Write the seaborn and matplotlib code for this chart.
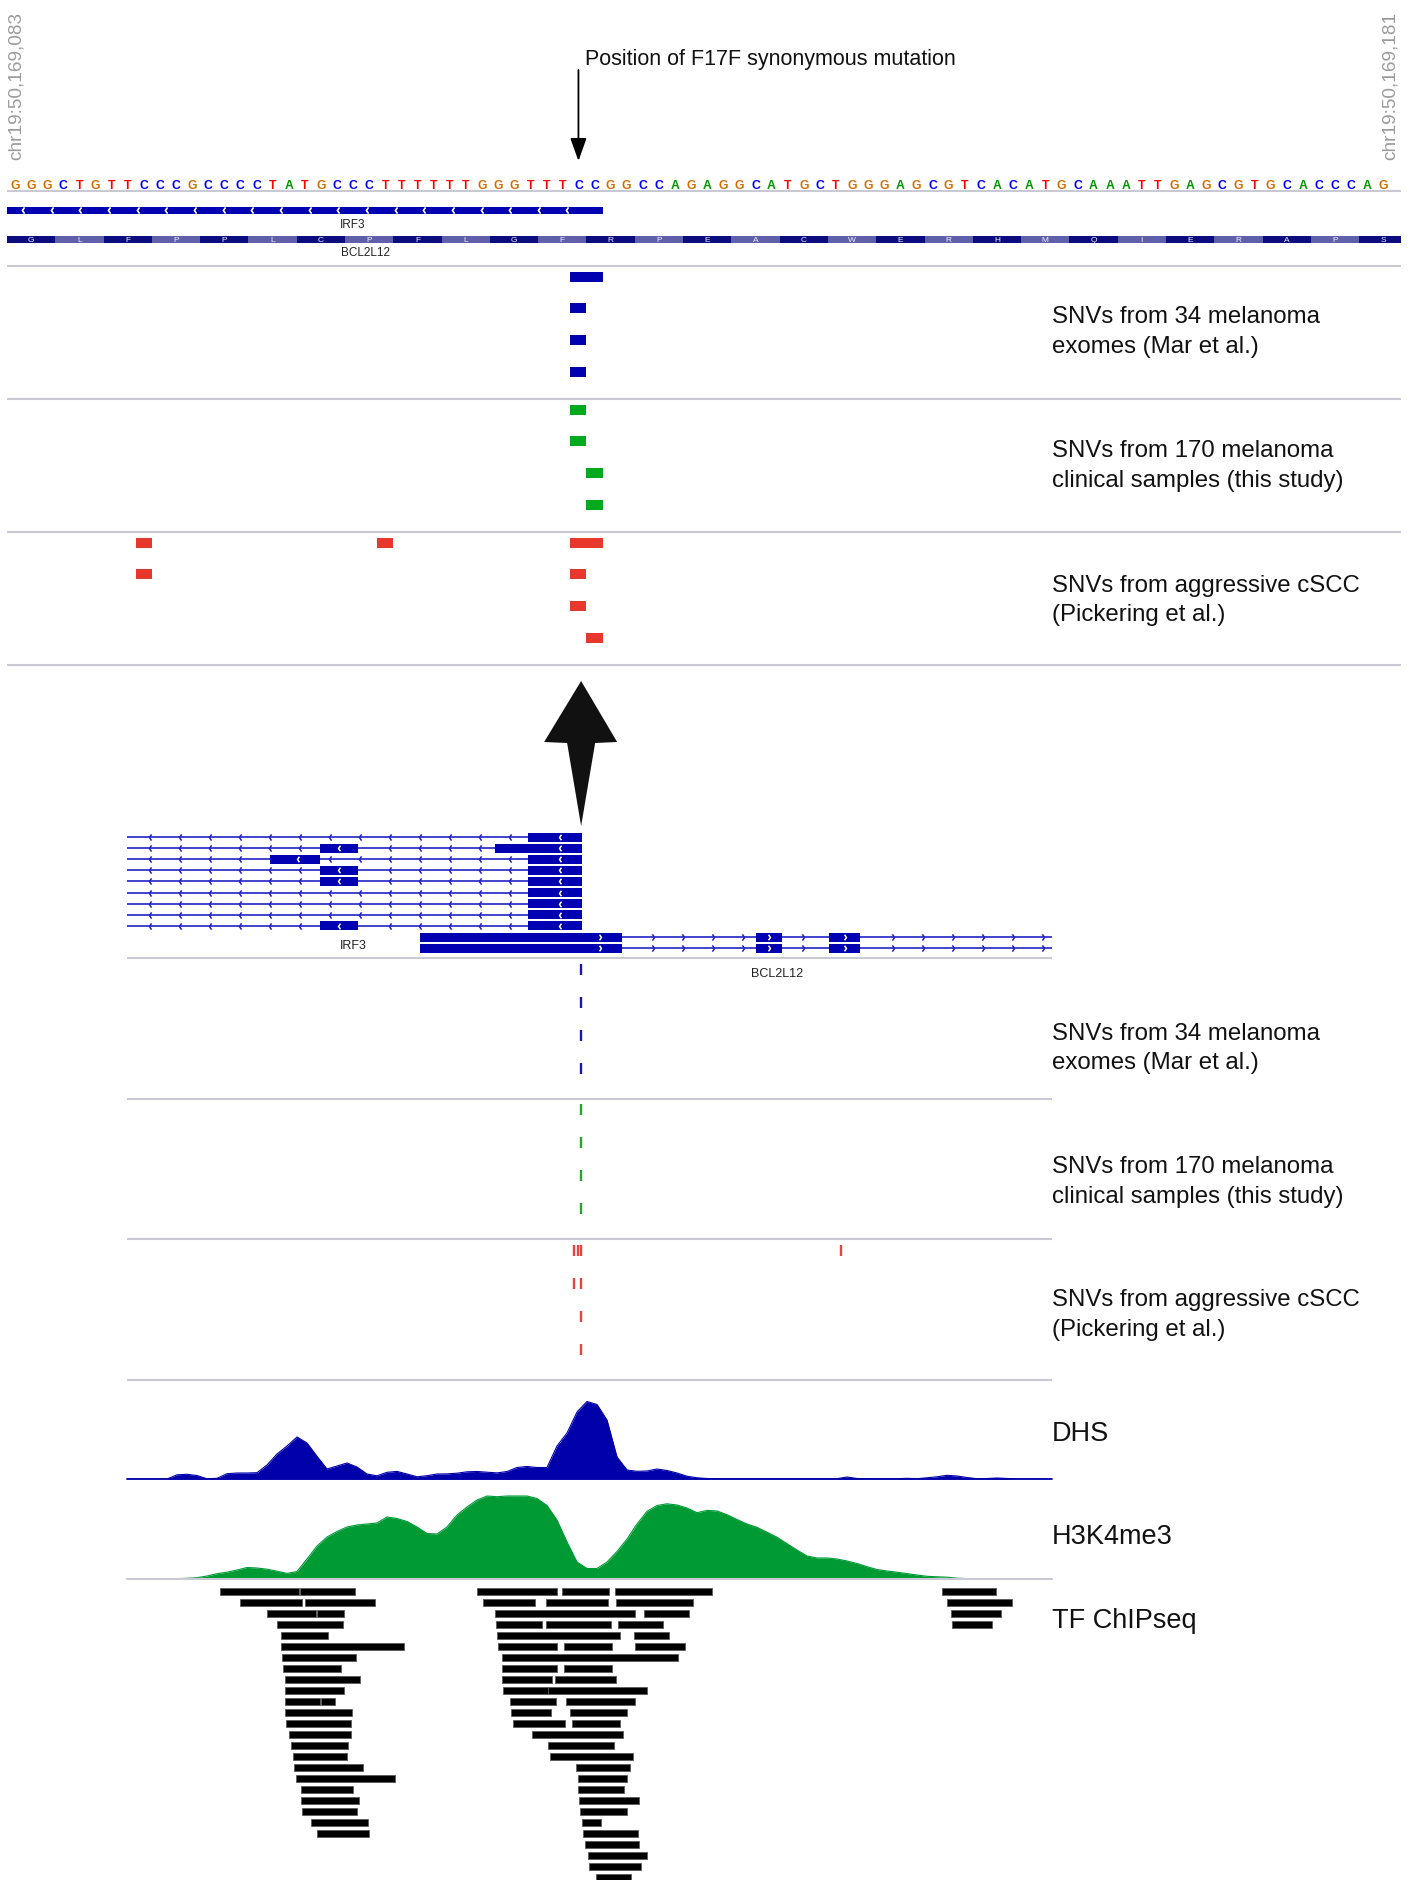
import numpy as np
import matplotlib
matplotlib.use("Agg")
import matplotlib.pyplot as plt
import seaborn as sns
from matplotlib.patches import Rectangle, Polygon
from matplotlib.path import Path

# ---------------------------------------------------------------- data
# Positions are bp offsets from chr19:50,169,083.
REF_SEQ = ("GGGCTGTTCCCGCCCCTATGCCCTTTTTTGGGTTTCCGGCCAG"
           "AGGCATGCTGGGAGCGTCACATGCAAATTGAGCGTGCACCCAG")
BCL2L12_AA = "GLFPPLCPFLGFRPEACWERHMQIERAPS"
BASE_COLORS = {"A": "#009600", "C": "#0000FF", "G": "#D17105", "T": "#FF0000"}

ZOOM_RANGE = (0.0, 86.6)
ZOOM_COORDS = ["chr19:50,169,083", "chr19:50,169,181"]
WIDE_RANGE = (-1781, 1919)
MUTATION_POS = 35
MUTATION_NOTE = "Position of F17F synonymous mutation"

# gene models (IRF3 on minus strand, BCL2L12 on plus strand)
IRF3_TX = (-2600, 37)
IRF3_EXONS = [
    [(-177, 37)],
    [(-1009, -857), (-309, 37)],
    [(-1209, -1009), (-177, 37)],
    [(-1009, -857), (-177, 37)],
    [(-1009, -857), (-177, 37)],
    [(-177, 37)],
    [(-177, 37)],
    [(-177, 37)],
    [(-1009, -857), (-177, 37)],
]
BCL2L12_TX = (-609, 2600)
BCL2L12_EXONS = [
    [(-609, 199), (735, 839), (1027, 1151)],
    [(-609, 199), (735, 839), (1027, 1151)],
]
GENE_LABEL_ZOOM = {"IRF3": 21.5, "BCL2L12": 22.3}
GENE_LABEL_WIDE = {"IRF3": -877, "BCL2L12": 819}

# single nucleotide variants, one list of (start, end) per sample row
SNV_LABELS = [
    ("SNVs from 34 melanoma", "exomes (Mar et al.)"),
    ("SNVs from 170 melanoma", "clinical samples (this study)"),
    ("SNVs from aggressive cSCC", "(Pickering et al.)"),
]
SNV_MAR = [[(35, 37)], [(35, 36)], [(35, 36)], [(35, 36)]]
SNV_STUDY = [[(35, 36)], [(35, 36)], [(36, 37)], [(36, 37)]]
SNV_CSCC = [[(8, 9), (23, 24), (35, 37), (1075, 1076)],
            [(8, 9), (35, 36)],
            [(35, 36)],
            [(36, 37)]]

# fixed-step coverage tracks
SIGNAL_START, SIGNAL_STEP = -1781, 40
DHS = [0, 0, 0, 0, 0, 4.2, 4.7, 3.5, 0.2, 0.7,
       5.3, 6, 6, 6.3, 14, 25, 33, 42, 36, 22.7,
       10, 13, 16, 12, 5, 3.2, 6.7, 7.6, 5, 2.2,
       3.3, 5, 5.1, 5.8, 7.2, 7.5, 6.8, 6.1, 7.5, 11.5,
       12.5, 11.5, 11.5, 33, 46, 67, 77.5, 74.5, 59, 22,
       9, 7.7, 8, 10, 8.5, 6, 2.8, 1.2, 0.5, 0.3,
       0.3, 0.3, 0.3, 0.3, 0.3, 0.3, 0.3, 0.3, 0.3, 0.3,
       0.3, 0.3, 2, 0.5, 0.3, 0.3, 0.3, 0.3, 0.7, 0.3,
       1.2, 2.2, 3.7, 3, 1.5, 0.3, 0.5, 1, 0.5, 0,
       0, 0, 0]
H3K4ME3 = [0, 0, 0, 0, 0, 0.3, 0.7, 1.3, 3, 5.3,
           6.8, 9, 11.5, 11, 9.8, 7.8, 5.6, 7.5, 20, 33,
           42, 47.5, 52, 54, 55, 56, 62, 60.5, 57.5, 52,
           45.5, 45, 52, 64, 72, 79, 83, 82.3, 83, 83,
           83, 80.5, 73.5, 59, 37, 17, 10.5, 10.5, 17, 27.5,
           40, 55, 67.7, 73.5, 75.2, 74, 71, 66.3, 68.6, 68,
           64.3, 59.5, 55, 51.7, 46.8, 41.8, 35.3, 29, 23, 21,
           21, 20, 18, 15.5, 12.3, 9.5, 8, 6.8, 5.4, 4,
           2.7, 2.2, 1.8, 0.8, 0.4, 0, 0, 0, 0, 0,
           0, 0, 0]

# TF ChIP-seq peaks, one list per display row
CHIP_PEAKS = [
    [(-1408, -1094), (-1089, -869), (-382, -61), (-40, 146), (169, 557), (1480, 1696)],
    [(-1328, -1082), (-1069, -788), (-357, -150), (-106, 142), (174, 481), (1499, 1758)],
    [(-1222, -1025), (-1020, -915), (-311, 252), (286, 465), (1515, 1715)],
    [(-1181, -917), (-306, -120), (-104, 153), (181, 362), (1519, 1678)],
    [(-1167, -979), (-301, 192), (245, 385)],
    [(-1165, -673), (-299, -63), (-35, 158), (252, 452)],
    [(-1160, -864), (-283, 424)],
    [(-1156, -926), (-283, -63), (-35, 158)],
    [(-1151, -850), (-283, -83), (-69, 176)],
    [(-1151, -915), (-279, -99), (-97, 298)],
    [(-1149, -1011), (-1007, -949), (-251, -67), (-26, 250)],
    [(-1149, -883), (-246, -86), (-10, 217)],
    [(-1144, -885), (-239, -28), (-3, 192)],
    [(-1135, -885), (-161, 204)],
    [(-1126, -896), (-97, 165)],
    [(-1117, -901), (-88, 241)],
    [(-1112, -837), (15, 229)],
    [(-1107, -708), (22, 217)],
    [(-1085, -878), (22, 208)],
    [(-1085, -855), (25, 268)],
    [(-1080, -862), (31, 217)],
    [(-1045, -816), (38, 114)],
    [(-1020, -813), (43, 261)],
    [(50, 268)],
    [(61, 298)],
    [(68, 275)],
    [(96, 233)],
]

# ---------------------------------------------------------------- style
sns.set_theme(style="white")
plt.rcParams["font.family"] = ["Liberation Sans", "DejaVu Sans"]

SEP = "#C9C9D4"
GENE = "#0000B2"
INTRON = "#2323C4"
CODON_DARK, CODON_LIGHT = "#0C0C7E", "#6060AA"
SNV_COLORS = ["#0000B0", "#00AA1E", "#E8382E"]
TICK_COLORS = ["#1818AA", "#2AA52A", "#E5453C"]
DHS_COLOR = "#0000AA"
H3_COLOR = "#009A35"
TEXT = "#111111"
LABEL_PT = 17.3
LINE_GAP = 29.5

CHEV_L = Path([(0.35, 1.0), (-0.35, 0.0), (0.35, -1.0)],
              [Path.MOVETO, Path.LINETO, Path.LINETO])
CHEV_R = Path([(-0.35, 1.0), (0.35, 0.0), (-0.35, -1.0)],
              [Path.MOVETO, Path.LINETO, Path.LINETO])

W, H = 1409, 1881
fig = plt.figure(figsize=(W / 100, H / 100), dpi=100)
fig.patch.set_facecolor("white")


def panel(x0, y0, x1, y1):
    ax = fig.add_axes([x0 / W, 1 - y1 / H, (x1 - x0) / W, (y1 - y0) / H])
    ax.set_axis_off()
    return ax


def ftext(x, y, s, **kw):
    kw.setdefault("color", TEXT)
    return fig.text(x / W, 1 - y / H, s, **kw)


def two_line_label(x, baseline, lines):
    ftext(x, baseline, lines[0], fontsize=LABEL_PT, va="baseline")
    ftext(x, baseline + LINE_GAP, lines[1], fontsize=LABEL_PT, va="baseline")


# ---------------------------------------------------------------- base-level view
top = panel(7, 0, 1401, 680)
top.set_xlim(*ZOOM_RANGE)
top.set_ylim(680, 0)

for i, b in enumerate(REF_SEQ):
    top.text(i + 0.5, 186, b, color=BASE_COLORS[b], ha="center", va="center",
             fontsize=8.8, fontweight="bold")
top.hlines([192] + [266.5 + 133 * k for k in range(4)], *ZOOM_RANGE, color=SEP, lw=1.5)

# IRF3 exon in the zoomed window
for s, e in IRF3_EXONS[0]:
    s2, e2 = max(s, ZOOM_RANGE[0]), min(e, ZOOM_RANGE[1])
    if e2 > s2:
        top.add_patch(Rectangle((s2, 207.5), e2 - s2, 7.5, fc=GENE, ec="none"))
        xs = np.arange(s2 + 1.0, e2 - 0.8, 1.78)
        top.plot(xs, np.full(len(xs), 211.2), ls="none", marker=CHEV_L, ms=4.5,
                 mew=1.2, mfc="none", mec="white")

# BCL2L12 codons
cds_start = BCL2L12_EXONS[0][0][0]
first = ZOOM_RANGE[0] - ((ZOOM_RANGE[0] - cds_start) % 3)
for k, aa in enumerate(BCL2L12_AA):
    s = first + 3 * k
    e = min(s + 3, ZOOM_RANGE[1])
    top.add_patch(Rectangle((s, 236.5), e - s, 7, fc=CODON_DARK if k % 2 == 0 else CODON_LIGHT,
                            ec="none"))
    top.text(s + 1.5, 240, aa, ha="center", va="center", fontsize=6, color="#EEEEF8")

top.text(GENE_LABEL_ZOOM["IRF3"], 225, "IRF3", ha="center", va="center", fontsize=8.5, color="#222222")
top.text(GENE_LABEL_ZOOM["BCL2L12"], 253, "BCL2L12", ha="center", va="center", fontsize=8.5,
         color="#222222")

SNV_TRACKS = [SNV_MAR, SNV_STUDY, SNV_CSCC]
for t, (track, col) in enumerate(zip(SNV_TRACKS, SNV_COLORS)):
    y0 = 267 + 133 * t
    for r, row in enumerate(track):
        yc = y0 + 10.5 + 31.7 * r
        for s, e in row:
            if e <= ZOOM_RANGE[0] or s >= ZOOM_RANGE[1]:
                continue
            top.add_patch(Rectangle((s, yc - 5), e - s, 10, fc=col, ec="none"))

for t, lines in enumerate(SNV_LABELS):
    two_line_label(1052, 323 + 134.3 * t, lines)

top.annotate("", xy=(MUTATION_POS + 0.5, 162), xytext=(MUTATION_POS + 0.5, 71),
             arrowprops=dict(arrowstyle="-|>,head_length=0.7,head_width=0.25", color="black",
                             lw=1.3, shrinkA=0, shrinkB=0, mutation_scale=20))
ftext(585, 60, MUTATION_NOTE, fontsize=15.5, va="center", ha="left")

ftext(16, 160, ZOOM_COORDS[0], rotation=90, ha="center", va="bottom", color="#9B9B9B", fontsize=13.7)
ftext(1390, 160, ZOOM_COORDS[1], rotation=90, ha="center", va="bottom", color="#9B9B9B", fontsize=13.7)

# ---------------------------------------------------------------- locus view
wide = panel(127, 680, 1052, 1385)
wide.set_xlim(*WIDE_RANGE)
wide.set_ylim(1385, 680)
bp_px = (WIDE_RANGE[1] - WIDE_RANGE[0]) / (1052 - 127)


def draw_tx(ax, y, exons, tx, strand):
    lo, hi = WIDE_RANGE
    a, b = max(tx[0], lo), min(tx[1], hi)
    ax.plot([a, b], [y, y], color=INTRON, lw=1.2, solid_capstyle="butt", zorder=2)
    marker = CHEV_L if strand == "-" else CHEV_R
    step = 30 * bp_px
    xs = np.arange(a + 23 * bp_px, b, step)
    xs = [x for x in xs if all(x < s - 5 * bp_px or x > e + 5 * bp_px for s, e in exons)]
    ax.plot(xs, np.full(len(xs), y), ls="none", marker=marker, ms=4.5, mew=1.1,
            mfc="none", mec=INTRON, zorder=3)
    for s, e in exons:
        s2, e2 = max(s, lo), min(e, hi)
        if e2 <= s2:
            continue
        ax.add_patch(Rectangle((s2, y - 4.5), e2 - s2, 9, fc=GENE, ec="none", zorder=4))
        if e2 - s2 > 20 * bp_px:
            xe = max((s2 + e2) / 2, e2 - 22 * bp_px)
            ax.plot([xe], [y], ls="none", marker=marker, ms=4, mew=1.1, mfc="none",
                    mec="white", zorder=5)


for r, exons in enumerate(IRF3_EXONS):
    draw_tx(wide, 838 + 11.1 * r, exons, IRF3_TX, "-")
for r, exons in enumerate(BCL2L12_EXONS):
    draw_tx(wide, 938 + 11 * r, exons, BCL2L12_TX, "+")
wide.text(GENE_LABEL_WIDE["IRF3"], 946, "IRF3", ha="center", va="center", fontsize=9, color="#222222")
wide.text(GENE_LABEL_WIDE["BCL2L12"], 974, "BCL2L12", ha="center", va="center", fontsize=9,
          color="#222222")

wide.hlines([959, 1099.5, 1240, 1380.5], *WIDE_RANGE, color=SEP, lw=1.5)

for t, (track, col) in enumerate(zip(SNV_TRACKS, TICK_COLORS)):
    y0 = 959 + 140.5 * t
    for r, row in enumerate(track):
        yc = y0 + 11 + 33 * r
        xs = [(s + e) / 2 for s, e in row]
        wide.vlines(xs, yc - 5.5, yc + 5.5, color=col, lw=1.7)

for t, lines in enumerate(SNV_LABELS):
    two_line_label(1052, 1040 + 133.2 * t, lines)

# arrow linking the two views at the mutation
cx = wide.transData.transform((MUTATION_POS + 0.5, 0))[0]
arrow = [(cx, 682), (cx + 36, 743), (cx + 14, 744), (cx, 827), (cx - 14, 744), (cx - 37, 743)]
fig.add_artist(Polygon([(x / W, 1 - y / H) for x, y in arrow], closed=True,
                       transform=fig.transFigure, fc="#111111", ec="none"))

# ---------------------------------------------------------------- coverage tracks
pos = SIGNAL_START + SIGNAL_STEP * np.arange(len(DHS))

dhs_ax = panel(127, 1380, 1052, 1480)
dhs_ax.fill_between(pos, DHS, color=DHS_COLOR, lw=0)
sns.lineplot(x=pos, y=DHS, ax=dhs_ax, color=DHS_COLOR, lw=0.8)
dhs_ax.axhline(0, color=DHS_COLOR, lw=1.3, clip_on=False)
dhs_ax.set_xlim(*WIDE_RANGE)
dhs_ax.set_ylim(0, 100)
dhs_ax.set_axis_off()

h3_ax = panel(127, 1480, 1052, 1580)
h3_ax.fill_between(pos, H3K4ME3, color=H3_COLOR, lw=0)
sns.lineplot(x=pos, y=H3K4ME3, ax=h3_ax, color=H3_COLOR, lw=0.8)
h3_ax.axhline(0, color=SEP, lw=1.5, clip_on=False)
h3_ax.set_xlim(*WIDE_RANGE)
h3_ax.set_ylim(0, 100)
h3_ax.set_axis_off()

chip = panel(127, 1580, 1052, 1881)
chip.set_xlim(*WIDE_RANGE)
chip.set_ylim(301, 0)
for r, row in enumerate(CHIP_PEAKS):
    yc = 12.7 + 11 * r
    for s, e in row:
        chip.add_patch(Rectangle((s, yc - 3.7), e - s, 7.4, fc="black", ec="#5A5A5A", lw=0.6))

ftext(1052, 1441, "DHS", fontsize=19.5, va="baseline")
ftext(1052, 1544, "H3K4me3", fontsize=19.5, va="baseline")
ftext(1052, 1628, "TF ChIPseq", fontsize=19.5, va="baseline")

fig.savefig("out.png", dpi=100, facecolor="white")
